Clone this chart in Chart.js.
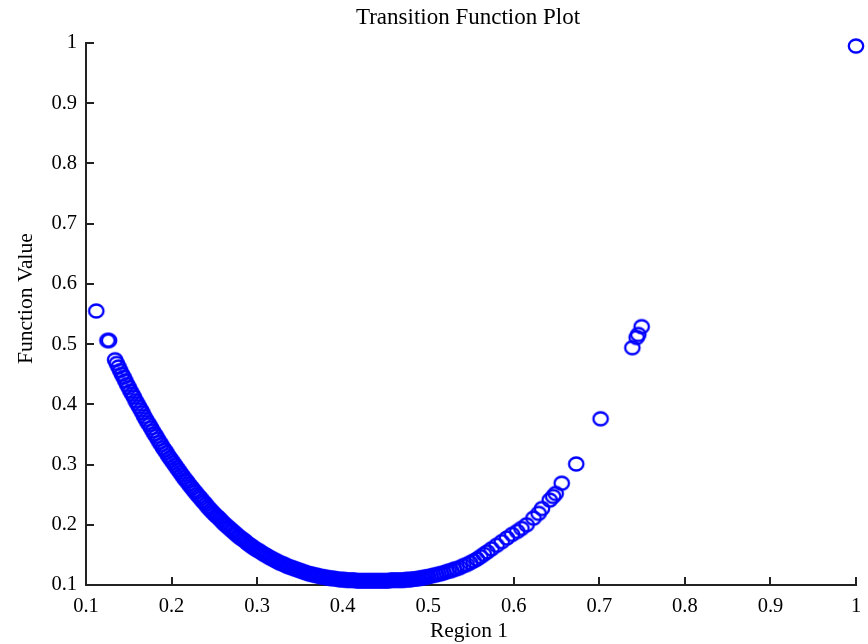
<!DOCTYPE html>
<html>
<head>
<meta charset="utf-8">
<script src="https://cdn.jsdelivr.net/npm/chart.js@4/dist/chart.umd.min.js"></script>
<style>
  html, body { margin: 0; padding: 0; background: #fff; }
  #plot { display: block; }
</style>
</head>
<body>
<canvas id="plot" width="868" height="644"></canvas>
<script>
// texts
var titleText = 'Transition Function Plot';
var xLabel = 'Region 1';
var yLabel = 'Function Value';

// axis ticks
var xTicks = [0.1, 0.2, 0.3, 0.4, 0.5, 0.6, 0.7, 0.8, 0.9, 1];
var xTickLabels = ['0.1', '0.2', '0.3', '0.4', '0.5', '0.6', '0.7', '0.8', '0.9', '1'];
var yTicks = [0.1, 0.2, 0.3, 0.4, 0.5, 0.6, 0.7, 0.8, 0.9, 1];
var yTickLabels = ['0.1', '0.2', '0.3', '0.4', '0.5', '0.6', '0.7', '0.8', '0.9', '1'];

// dense band of points
var regionValues = [
    0.134, 0.136, 0.138, 0.140, 0.142, 0.144, 0.146, 0.148, 0.150, 0.152,
    0.154, 0.156, 0.158, 0.160, 0.162, 0.164, 0.166, 0.168, 0.170, 0.172,
    0.174, 0.176, 0.178, 0.180, 0.182, 0.184, 0.186, 0.188, 0.190, 0.192,
    0.194, 0.196, 0.198, 0.200, 0.202, 0.204, 0.206, 0.208, 0.210, 0.212,
    0.214, 0.216, 0.218, 0.220, 0.222, 0.224, 0.226, 0.228, 0.230, 0.232,
    0.234, 0.236, 0.238, 0.240, 0.242, 0.244, 0.246, 0.248, 0.250, 0.252,
    0.254, 0.256, 0.258, 0.260, 0.262, 0.264, 0.266, 0.268, 0.270, 0.272,
    0.274, 0.276, 0.278, 0.280, 0.282, 0.284, 0.286, 0.288, 0.290, 0.292,
    0.294, 0.296, 0.298, 0.300, 0.302, 0.304, 0.306, 0.308, 0.310, 0.312,
    0.314, 0.316, 0.318, 0.320, 0.322, 0.324, 0.326, 0.328, 0.330, 0.332,
    0.334, 0.336, 0.338, 0.340, 0.342, 0.344, 0.346, 0.348, 0.350, 0.352,
    0.354, 0.356, 0.358, 0.360, 0.362, 0.364, 0.366, 0.368, 0.370, 0.372,
    0.374, 0.376, 0.378, 0.380, 0.382, 0.384, 0.386, 0.388, 0.390, 0.392,
    0.394, 0.396, 0.398, 0.400, 0.402, 0.404, 0.406, 0.408, 0.410, 0.412,
    0.414, 0.416, 0.418, 0.420, 0.422, 0.424, 0.426, 0.428, 0.430, 0.432,
    0.434, 0.436, 0.438, 0.440, 0.442, 0.444, 0.446, 0.448, 0.450, 0.452,
    0.454, 0.456, 0.458, 0.460, 0.462, 0.464, 0.466, 0.468, 0.470, 0.472,
    0.474, 0.476, 0.478, 0.480, 0.482, 0.484, 0.486, 0.488, 0.490, 0.492,
    0.494, 0.496, 0.498, 0.500, 0.503, 0.506, 0.509, 0.512, 0.515, 0.518,
    0.521, 0.524, 0.527, 0.530, 0.533, 0.537, 0.541, 0.545, 0.549, 0.553,
    0.557, 0.561, 0.565, 0.569, 0.574, 0.580, 0.586, 0.592, 0.598, 0.604,
    0.609, 0.615, 0.623, 0.629, 0.633, 0.642, 0.646, 0.649, 0.656
];
var functionValues = [
    0.474, 0.468, 0.462, 0.456, 0.450, 0.445, 0.439, 0.433, 0.428, 0.422,
    0.417, 0.412, 0.406, 0.401, 0.396, 0.391, 0.386, 0.380, 0.375, 0.370,
    0.366, 0.361, 0.356, 0.351, 0.347, 0.342, 0.337, 0.333, 0.328, 0.324,
    0.320, 0.315, 0.311, 0.307, 0.303, 0.299, 0.295, 0.291, 0.287, 0.283,
    0.279, 0.275, 0.272, 0.268, 0.264, 0.261, 0.257, 0.254, 0.250, 0.247,
    0.244, 0.240, 0.237, 0.234, 0.230, 0.227, 0.224, 0.221, 0.218, 0.215,
    0.213, 0.210, 0.207, 0.204, 0.201, 0.199, 0.196, 0.194, 0.191, 0.189,
    0.186, 0.184, 0.181, 0.179, 0.177, 0.175, 0.173, 0.170, 0.168, 0.166,
    0.164, 0.162, 0.160, 0.158, 0.157, 0.155, 0.153, 0.151, 0.150, 0.148,
    0.146, 0.145, 0.143, 0.142, 0.140, 0.139, 0.137, 0.136, 0.135, 0.134,
    0.132, 0.131, 0.130, 0.129, 0.128, 0.127, 0.126, 0.125, 0.124, 0.123,
    0.122, 0.121, 0.120, 0.119, 0.118, 0.118, 0.117, 0.116, 0.116, 0.115,
    0.114, 0.114, 0.113, 0.113, 0.112, 0.112, 0.111, 0.111, 0.111, 0.110,
    0.110, 0.109, 0.109, 0.109, 0.109, 0.108, 0.108, 0.108, 0.108, 0.108,
    0.108, 0.107, 0.107, 0.107, 0.107, 0.107, 0.107, 0.107, 0.107, 0.107,
    0.107, 0.107, 0.107, 0.107, 0.107, 0.107, 0.107, 0.107, 0.107, 0.107,
    0.107, 0.108, 0.108, 0.108, 0.108, 0.108, 0.108, 0.108, 0.108, 0.108,
    0.109, 0.109, 0.109, 0.109, 0.110, 0.110, 0.110, 0.111, 0.111, 0.112,
    0.112, 0.113, 0.113, 0.114, 0.115, 0.116, 0.117, 0.118, 0.119, 0.120,
    0.122, 0.123, 0.124, 0.126, 0.127, 0.129, 0.132, 0.134, 0.137, 0.140,
    0.143, 0.147, 0.151, 0.155, 0.160, 0.166, 0.172, 0.178, 0.184, 0.189,
    0.194, 0.200, 0.211, 0.219, 0.227, 0.241, 0.247, 0.252, 0.269
];

// scattered points away from the band
var outlierRegion = [0.112, 0.125, 0.127, 0.673, 0.7015, 0.7386, 0.7436, 0.7455, 0.7495, 1.0];
var outlierFunction = [0.555, 0.506, 0.506, 0.301, 0.376, 0.494, 0.511, 0.516, 0.529, 0.995];

function toPoints(xs, ys) {
    var pts = [];
    for (var i = 0; i < xs.length; i++) pts.push({ x: xs[i], y: ys[i] });
    return pts;
}

// hollow blue ellipse marker, like the MATLAB 'o'
var marker = document.createElement('canvas');
marker.width = 20;
marker.height = 18;
(function () {
    var m = marker.getContext('2d');
    m.strokeStyle = '#0000ff';
    m.lineWidth = 2.3;
    m.beginPath();
    m.ellipse(10, 9, 7.2, 6.5, 0, 0, Math.PI * 2);
    m.stroke();
})();

var labelsPlugin = {
    id: 'plotLabels',
    afterDraw: function (chart) {
        var ctx = chart.ctx;
        var area = chart.chartArea;
        var cx = (area.left + area.right) / 2;
        ctx.save();
        ctx.fillStyle = '#000';
        ctx.textAlign = 'center';
        ctx.textBaseline = 'alphabetic';
        ctx.font = '23px "Liberation Serif"';
        ctx.fillText(titleText, cx - 3, 24);
        ctx.font = '21.5px "Liberation Serif"';
        ctx.fillText(xLabel, cx - 2, 637);
        ctx.translate(32, 298.5);
        ctx.rotate(-Math.PI / 2);
        ctx.fillText(yLabel, 0, 0);
        ctx.restore();
    }
};

var axisColor = '#222';
var tickFont = { family: '"Liberation Serif"', size: 20.5 };

new Chart(document.getElementById('plot').getContext('2d'), {
    type: 'scatter',
    data: {
        datasets: [{
            data: toPoints(regionValues, functionValues),
            pointStyle: marker,
            clip: false
        }, {
            data: toPoints(outlierRegion, outlierFunction),
            pointStyle: marker,
            clip: false
        }]
    },
    options: {
        responsive: false,
        animation: false,
        events: [],
        layout: { padding: { top: 43, right: 12, left: 0, bottom: 0 } },
        plugins: {
            legend: { display: false },
            tooltip: { enabled: false }
        },
        scales: {
            x: {
                type: 'linear',
                min: 0.1,
                max: 1,
                afterBuildTicks: function (scale) {
                    scale.ticks = xTicks.map(function (v) { return { value: v }; });
                },
                afterFit: function (scale) {
                    scale.height = 59;
                    scale.paddingLeft = 0;
                    scale.paddingRight = 0;
                },
                ticks: {
                    maxRotation: 0,
                    autoSkip: false,
                    padding: 17,
                    color: '#000',
                    font: tickFont,
                    callback: function (value, index) { return xTickLabels[index]; }
                },
                grid: { drawOnChartArea: false, tickLength: -8, color: axisColor, lineWidth: 2 },
                border: { display: true, color: axisColor, width: 2 }
            },
            y: {
                type: 'linear',
                min: 0.1,
                max: 1,
                afterBuildTicks: function (scale) {
                    scale.ticks = yTicks.map(function (v) { return { value: v }; });
                },
                afterFit: function (scale) {
                    scale.width = 86;
                    scale.paddingTop = 0;
                    scale.paddingBottom = 0;
                },
                ticks: {
                    autoSkip: false,
                    padding: 17,
                    color: '#000',
                    font: tickFont,
                    callback: function (value, index) { return yTickLabels[index]; }
                },
                grid: { drawOnChartArea: false, tickLength: -8, color: axisColor, lineWidth: 2 },
                border: { display: true, color: axisColor, width: 2 }
            }
        }
    },
    plugins: [labelsPlugin]
});
</script>
</body>
</html>
